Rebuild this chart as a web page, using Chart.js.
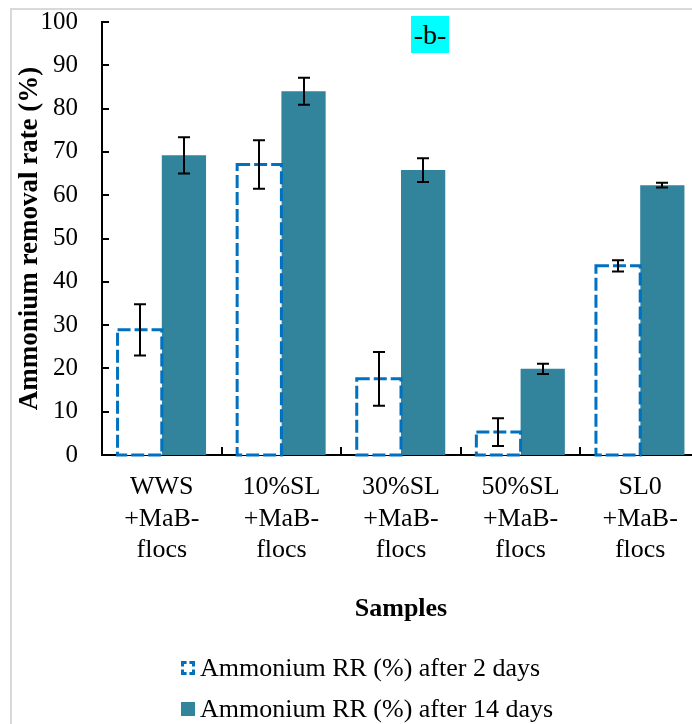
<!DOCTYPE html>
<html>
<head>
<meta charset="utf-8">
<script src="https://cdn.jsdelivr.net/npm/chart.js@4"></script>
<style>
  html, body { margin:0; padding:0; background:#fff; }
  #wrap { position:relative; width:692px; height:724px; overflow:hidden; background:#fff; }
  #frame { position:absolute; left:10px; top:8px; width:900px; height:900px; border:2px solid #d9d9d9; box-sizing:border-box; }
  #c { position:absolute; left:0; top:0; }
  #tag { position:absolute; left:411px; top:16px; width:38px; height:37px; background:#00FFFF; font:28px 'Liberation Serif', 'Times New Roman', serif; line-height:37px; text-align:center; color:#000; }
  .leg { position:absolute; left:181px; font:26px 'Liberation Serif', 'Times New Roman', serif; color:#000; white-space:nowrap; line-height:30px; }
  .leg span.ic { position:absolute; left:0; top:8px; width:14px; height:14px; box-sizing:border-box; }
  .leg span.tx { position:absolute; left:19px; top:0; }
  #ic1 { border:3px dashed #0070C0; }
  #ic2 { background:#31849B; }
</style>
</head>
<body>
<div id="wrap">
  <div id="frame"></div>
  <canvas id="c" width="720" height="724" style="width:720px;height:724px"></canvas>
  <div id="tag">-b-</div>
  <div class="leg" style="top:653px"><span class="ic" id="ic1"></span><span class="tx">Ammonium RR (%) after 2 days</span></div>
  <div class="leg" style="top:694px"><span class="ic" id="ic2"></span><span class="tx">Ammonium RR (%) after 14 days</span></div>
</div>
<script>
const categories = [
  ["WWS", "+MaB-", "flocs"],
  ["10%SL", "+MaB-", "flocs"],
  ["30%SL", "+MaB-", "flocs"],
  ["50%SL", "+MaB-", "flocs"],
  ["SL0", "+MaB-", "flocs"]
];
const rr2 = [28.9, 67.1, 17.6, 5.3, 43.7];
const rr2Err = [5.9, 5.6, 6.2, 3.2, 1.3];
const rr14 = [69.2, 84.0, 65.8, 19.9, 62.3];
const rr14Err = [4.2, 3.1, 2.75, 1.2, 0.55];
const yTicks = [0, 10, 20, 30, 40, 50, 60, 70, 80, 90, 100];

const SERIF = "'Liberation Serif', 'Times New Roman', serif";

const decor = {
  id: 'decor',
  afterDatasetsDraw(chart) {
    const ctx = chart.ctx;
    const ys = chart.scales.y;
    const m0 = chart.getDatasetMeta(0);
    ctx.save();
    ctx.strokeStyle = '#0070C0';
    ctx.lineWidth = 3;
    ctx.setLineDash([13, 4]);
    m0.data.forEach(b => {
      const p = b.getProps(['x', 'y', 'base', 'width'], true);
      ctx.strokeRect(p.x - p.width / 2, p.y, p.width, p.base - p.y);
    });
    ctx.restore();
    const vals = [rr2, rr14];
    const errs = [rr2Err, rr14Err];
    ctx.save();
    ctx.strokeStyle = '#000';
    ctx.lineWidth = 2;
    ctx.setLineDash([]);
    [0, 1].forEach(di => {
      chart.getDatasetMeta(di).data.forEach((b, i) => {
        const cx = Math.round(b.x);
        const t = ys.getPixelForValue(vals[di][i] + errs[di][i]);
        const bt = ys.getPixelForValue(vals[di][i] - errs[di][i]);
        ctx.beginPath();
        ctx.moveTo(cx, t); ctx.lineTo(cx, bt);
        ctx.moveTo(cx - 6, t); ctx.lineTo(cx + 6, t);
        ctx.moveTo(cx - 6, bt); ctx.lineTo(cx + 6, bt);
        ctx.stroke();
      });
    });
    ctx.restore();
  },
  afterDraw(chart) {
    const ctx = chart.ctx;
    const xs = chart.scales.x, ys = chart.scales.y;
    const area = chart.chartArea;
    ctx.save();
    ctx.strokeStyle = '#000';
    ctx.lineWidth = 2;
    ctx.beginPath();
    yTicks.forEach(v => {
      const py = Math.round(ys.getPixelForValue(v));
      ctx.moveTo(area.left, py); ctx.lineTo(area.left + 7, py);
    });
    for (let i = 0; i <= categories.length; i++) {
      const px = Math.round(xs.getPixelForValue(i - 0.5));
      ctx.moveTo(px, area.bottom); ctx.lineTo(px, area.bottom - 8);
    }
    ctx.stroke();
    ctx.restore();
  }
};

new Chart(document.getElementById('c'), {
  type: 'bar',
  data: {
    labels: categories,
    datasets: [
      { label: 'Ammonium RR (%) after 2 days', data: rr2, backgroundColor: '#ffffff', borderWidth: 0,
        categoryPercentage: 0.74, barPercentage: 1.0 },
      { label: 'Ammonium RR (%) after 14 days', data: rr14, backgroundColor: '#31849B', borderWidth: 0,
        categoryPercentage: 0.74, barPercentage: 1.0 }
    ]
  },
  options: {
    responsive: false,
    animation: false,
    layout: { padding: { top: 22, right: 20, left: 0, bottom: 99 } },
    plugins: { legend: { display: false }, tooltip: { enabled: false } },
    scales: {
      x: {
        z: 1,
        grid: { display: false, drawTicks: false },
        border: { display: true, color: '#000', width: 2 },
        ticks: { color: '#000', font: { family: SERIF, size: 26, lineHeight: 1.2 }, padding: 17, maxRotation: 0, autoSkip: false },
        title: { display: true, text: 'Samples', color: '#000', font: { family: SERIF, size: 26, weight: 'bold' }, padding: { top: 0, bottom: 0 } },
        afterFit: s => { s.height = 170; s.paddingLeft = 0; s.paddingRight = 0; }
      },
      y: {
        min: 0, max: 100,
        grid: { display: false, drawTicks: false },
        border: { display: true, color: '#000', width: 2 },
        ticks: { stepSize: 10, color: '#000', font: { family: SERIF, size: 25 }, padding: 24 },
        title: { display: true, text: 'Ammonium removal rate (%)', color: '#000', font: { family: SERIF, size: 27, weight: 'bold' }, padding: { top: 14, bottom: 0 } },
        afterFit: s => { s.width = 102; s.paddingTop = 0; s.paddingBottom = 0; }
      }
    }
  },
  plugins: [decor]
});
</script>
</body>
</html>
